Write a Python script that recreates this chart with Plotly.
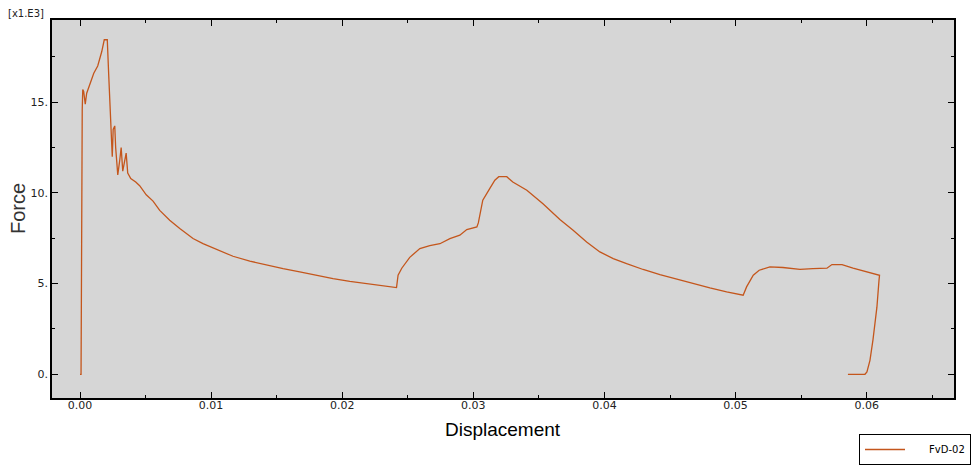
import plotly.graph_objects as go

# Force vs displacement, force read in units of 1e3
displacement = [
    0.0, 0.00008, 0.00017, 0.00021, 0.00028, 0.00040, 0.00051, 0.00074,
    0.00105, 0.00135, 0.00166, 0.00185, 0.00208, 0.00219, 0.00230, 0.00238,
    0.00246, 0.00253, 0.00265, 0.00272, 0.00288, 0.00303, 0.00314, 0.00326,
    0.00341, 0.00352, 0.00364, 0.00387, 0.00425, 0.00455, 0.00505, 0.00557,
    0.00608, 0.00684, 0.00761, 0.00862, 0.00938, 0.01041, 0.01167, 0.01295,
    0.01422, 0.01549, 0.01676, 0.01804, 0.01930, 0.02058, 0.02185, 0.02312,
    0.02414, 0.02426, 0.02454, 0.02515, 0.02592, 0.02668, 0.02745, 0.02821,
    0.02897, 0.02950, 0.03027, 0.03038, 0.03072, 0.03126, 0.03164, 0.03194,
    0.03255, 0.03301, 0.03408, 0.03531, 0.03660, 0.03761, 0.03864, 0.03965,
    0.04067, 0.04169, 0.04295, 0.04423, 0.04550, 0.04677, 0.04804, 0.04932,
    0.05058, 0.05084, 0.05135, 0.05180, 0.05262, 0.05361, 0.05491, 0.05590,
    0.05697, 0.05735, 0.05812, 0.05896, 0.06002, 0.06098, 0.06094, 0.06078,
    0.06048, 0.06025, 0.06002, 0.05987, 0.05857,
]
force = [
    0.0, 0.0, 14.6, 15.7, 15.6, 14.9, 15.5, 16.0,
    16.6, 17.0, 17.8, 18.45, 18.45, 16.5, 14.5, 13.0,
    12.0, 13.5, 13.7, 12.5, 11.0, 11.8, 12.5, 11.2,
    11.8, 12.2, 11.1, 10.8, 10.6, 10.4, 9.9, 9.55,
    9.04, 8.5, 8.04, 7.49, 7.21, 6.88, 6.51, 6.24,
    6.02, 5.83, 5.65, 5.46, 5.28, 5.13, 5.0, 4.87,
    4.78, 5.46, 5.85, 6.45, 6.93, 7.1, 7.2, 7.48,
    7.67, 7.98, 8.13, 8.35, 9.6, 10.25, 10.7, 10.9,
    10.9, 10.6, 10.15, 9.4, 8.54, 7.95, 7.3, 6.75,
    6.38, 6.1, 5.78, 5.5, 5.24, 5.0, 4.76, 4.54,
    4.36, 4.82, 5.46, 5.74, 5.92, 5.89, 5.79, 5.83,
    5.85, 6.05, 6.05, 5.86, 5.64, 5.46, 5.18, 3.7,
    1.9, 0.77, 0.13, 0.0, 0.0,
]

x_ticks = [0.0, 0.01, 0.02, 0.03, 0.04, 0.05, 0.06]
x_labels = ["0.00", "0.01", "0.02", "0.03", "0.04", "0.05", "0.06"]
y_ticks = [0, 5, 10, 15]
y_labels = ["0.", "5.", "10.", "15."]

line_col = "#c4561c"
tick_font = dict(family="DejaVu Sans", size=11, color="#222222")

fig = go.Figure()
fig.add_trace(go.Scatter(
    x=displacement, y=force, mode="lines",
    name="\u00a0\u00a0\u00a0\u00a0\u00a0\u00a0FvD-02",
    line=dict(color=line_col, width=1.3),
))

# scale factor note above the y axis
fig.add_annotation(
    x=-0.0505, y=1.0, xref="paper", yref="paper",
    xanchor="left", yanchor="bottom", yshift=-1,
    text="[x1.E3]", showarrow=False,
    font=dict(family="DejaVu Sans", size=10, color="#222222"),
)
# axis titles
fig.add_annotation(
    x=0.5, y=0, xref="paper", yref="paper",
    xanchor="center", yanchor="top", yshift=-19,
    text="Displacement", showarrow=False,
    font=dict(family="Liberation Sans", size=19, color="black"),
)
fig.add_annotation(
    x=0, y=0.5, xref="paper", yref="paper",
    xanchor="center", yanchor="middle", xshift=-34, textangle=-90,
    text="Force", showarrow=False,
    font=dict(family="Liberation Sans", size=20, color="#333333"),
)

axis_common = dict(
    showline=True, linecolor="black", linewidth=1.5, mirror="allticks",
    ticks="inside", ticklen=6, tickcolor="black", showgrid=False,
    zeroline=False, tickfont=tick_font,
)

fig.update_xaxes(
    range=[-0.002136, 0.06666], tickvals=x_ticks, ticktext=x_labels,
    minor=dict(ticks="inside", ticklen=3, dtick=0.005, tick0=0, tickcolor="black"),
    ticklabelstandoff=-4,
    **axis_common,
)
fig.update_yaxes(
    range=[-1.308, 19.54], tickvals=y_ticks, ticktext=y_labels,
    minor=dict(ticks="inside", ticklen=3, dtick=2.5, tick0=0, tickcolor="black"),
    **axis_common,
)

# the page body adds an 8px margin, so the figure is sized to fit inside it
fig.update_layout(
    width=963, height=457,
    margin=dict(l=44, r=17, t=12, b=67, autoexpand=False),
    plot_bgcolor="#d6d6d6", paper_bgcolor="white",
    showlegend=True,
    legend=dict(
        xref="container", yref="container", x=1.0, y=0.0,
        xanchor="right", yanchor="bottom", orientation="h",
        bordercolor="black", borderwidth=1, bgcolor="white",
        font=dict(family="DejaVu Sans", size=10, color="black"),
        itemwidth=40,
    ),
)

fig.write_html("out.html")
